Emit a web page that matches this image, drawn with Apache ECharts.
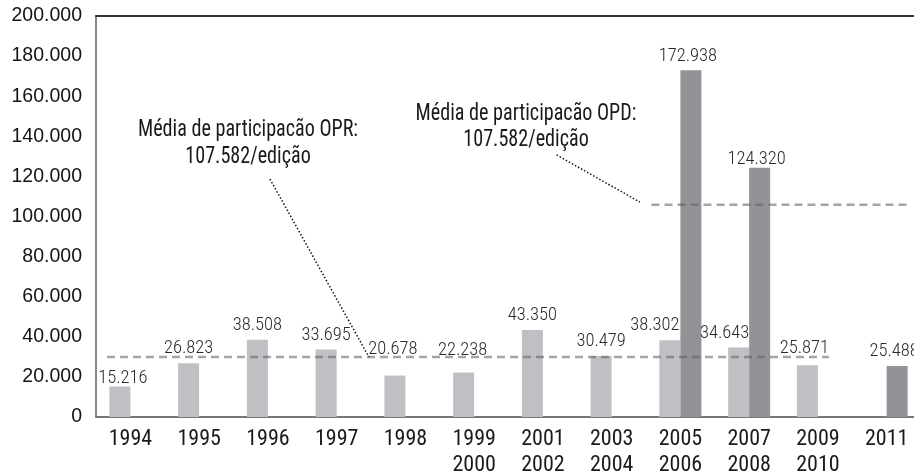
<!DOCTYPE html>
<html>
<head>
<meta charset="utf-8">
<script src="https://cdn.jsdelivr.net/npm/echarts@6/dist/echarts.min.js"></script>
<style>
html,body{margin:0;padding:0;background:#fff;}
#chart{width:914px;height:474px;}
</style>
</head>
<body>
<div id="chart"></div>
<script>
// ---- data ----
var categories = ['1994','1995','1996','1997','1998','1999\n2000','2001\n2002','2003\n2004','2005\n2006','2007\n2008','2009\n2010','2011'];
var oprValues = [15216, 26823, 38508, 33695, 20678, 22238, 43350, 30479, 38302, 34643, 25871, null];
var opdValues = [null, null, null, null, null, null, null, null, 172938, 124320, null, 25488];
var yTicks = [0, 20000, 40000, 60000, 80000, 100000, 120000, 140000, 160000, 180000, 200000];
// average reference lines (x in category index units, y in values)
var oprAvgX = [-0.34, 10.16];
var oprAvgY = 29900;
var opdAvgX = [7.58, 11.31];
var opdAvgY = 105800;
// leader lines of the annotations
var oprLeaderX = [2.03, 3.47];
var oprLeaderY = [118700, 29900];
var opdLeaderX = [6.20, 7.41];
var opdLeaderY = [130700, 107200];
var oprNote = 'Média de participacão OPR:\n107.582/edição';
var opdNote = 'Média de participacão OPD:\n107.582/edição';

// label nudges (pixels) kept apart from the data
var oprLabelNudge = [[3,6],[0,0],[0,0],[0,0],[-2,-12],[-1,-8],[0,0],[0,0],[-15,0],[-14,0],[-3,-2],[0,0]];
var opdLabelNudge = [[0,0],[0,0],[0,0],[0,0],[0,0],[0,0],[0,0],[0,0],[-3,1],[-3,6],[0,0],[-3,0]];

function fmt(v){ return String(v).replace(/\B(?=(\d{3})+(?!\d))/g, '.'); }
var NARROW = '"Roboto Condensed", "Liberation Sans Narrow", "DejaVu Sans Condensed", sans-serif';

function buildBars(vals, nudges){
  return vals.map(function(v,i){
    return { value: v, label: { offset: nudges[i] } };
  });
}
function pairs(xs, ys){
  return xs.map(function(x,i){ return [x, Array.isArray(ys) ? ys[i] : ys]; });
}

var valueLabel = {
  show: true, position: 'top', distance: 5,
  fontFamily: NARROW, fontSize: 18.5, fontWeight: 300, color: '#2a2a2a',
  formatter: function(p){ return p.value == null ? '' : fmt(p.value); }
};

var chart = echarts.init(document.getElementById('chart'), null, {renderer:'canvas'});
chart.setOption({
  animation: false,
  backgroundColor: '#fff',
  grid: { left: 96, right: -7, top: 16, bottom: 57, containLabel: false, outerBoundsMode: 'none' },
  xAxis: [{
    type: 'category', data: categories,
    axisLine: { show: true, lineStyle: { color: '#777', width: 2 } },
    axisTick: { show: false },
    axisLabel: { fontFamily: NARROW, fontSize: 22, lineHeight: 26, color: '#1a1a1a', margin: 9, interval: 0 },
    splitLine: { show: false }
  }, {
    type: 'value', min: -0.5, max: 11.5, position: 'top',
    axisLine: { show: true, onZero: false, lineStyle: { color: '#333', width: 2 } },
    axisTick: { show: false }, axisLabel: { show: false }, splitLine: { show: false }
  }],
  yAxis: {
    type: 'value', min: yTicks[0], max: yTicks[yTicks.length-1], interval: yTicks[1]-yTicks[0],
    axisLine: { show: true, onZero: false, lineStyle: { color: '#888', width: 2 } },
    axisTick: { show: false },
    splitLine: { show: false },
    axisLabel: { fontFamily: '"Liberation Sans", Arial, sans-serif', fontSize: 19.5, color: '#141414', margin: 14, formatter: fmt }
  },
  series: [{
    name: 'OPR', type: 'bar', barWidth: 21, barGap: '0%',
    itemStyle: { color: '#c0c0c4' },
    label: valueLabel,
    data: buildBars(oprValues, oprLabelNudge)
  }, {
    name: 'OPD', type: 'bar', barWidth: 21, barGap: '0%',
    itemStyle: { color: '#939297' },
    label: valueLabel,
    data: buildBars(opdValues, opdLabelNudge)
  }, {
    type: 'line', xAxisIndex: 1, symbol: 'none', silent: true,
    lineStyle: { color: 'rgba(95,95,95,0.56)', width: 2.5, type: [8,5] },
    data: pairs(oprAvgX, oprAvgY)
  }, {
    type: 'line', xAxisIndex: 1, symbol: 'none', silent: true,
    lineStyle: { color: 'rgba(95,95,95,0.56)', width: 2.5, type: [8,5] },
    data: pairs(opdAvgX, opdAvgY)
  }, {
    type: 'line', xAxisIndex: 1, symbol: 'none', silent: true,
    lineStyle: { color: '#111', width: 1.5, type: [1.5,2] },
    data: pairs(oprLeaderX, oprLeaderY)
  }, {
    type: 'line', xAxisIndex: 1, symbol: 'none', silent: true,
    lineStyle: { color: '#111', width: 1.5, type: [1.5,2] },
    data: pairs(opdLeaderX, opdLeaderY)
  }],
  graphic: [{
    type: 'text', x: 248, y: 117, scaleX: 0.875,
    style: { text: oprNote, textAlign: 'center', fontFamily: NARROW, fontSize: 23, lineHeight: 27, fill: '#1a1a1a' }
  }, {
    type: 'text', x: 526, y: 101, scaleX: 0.875,
    style: { text: opdNote, textAlign: 'center', fontFamily: NARROW, fontSize: 23, lineHeight: 26, fill: '#1a1a1a' }
  }]
});
</script>
</body>
</html>
